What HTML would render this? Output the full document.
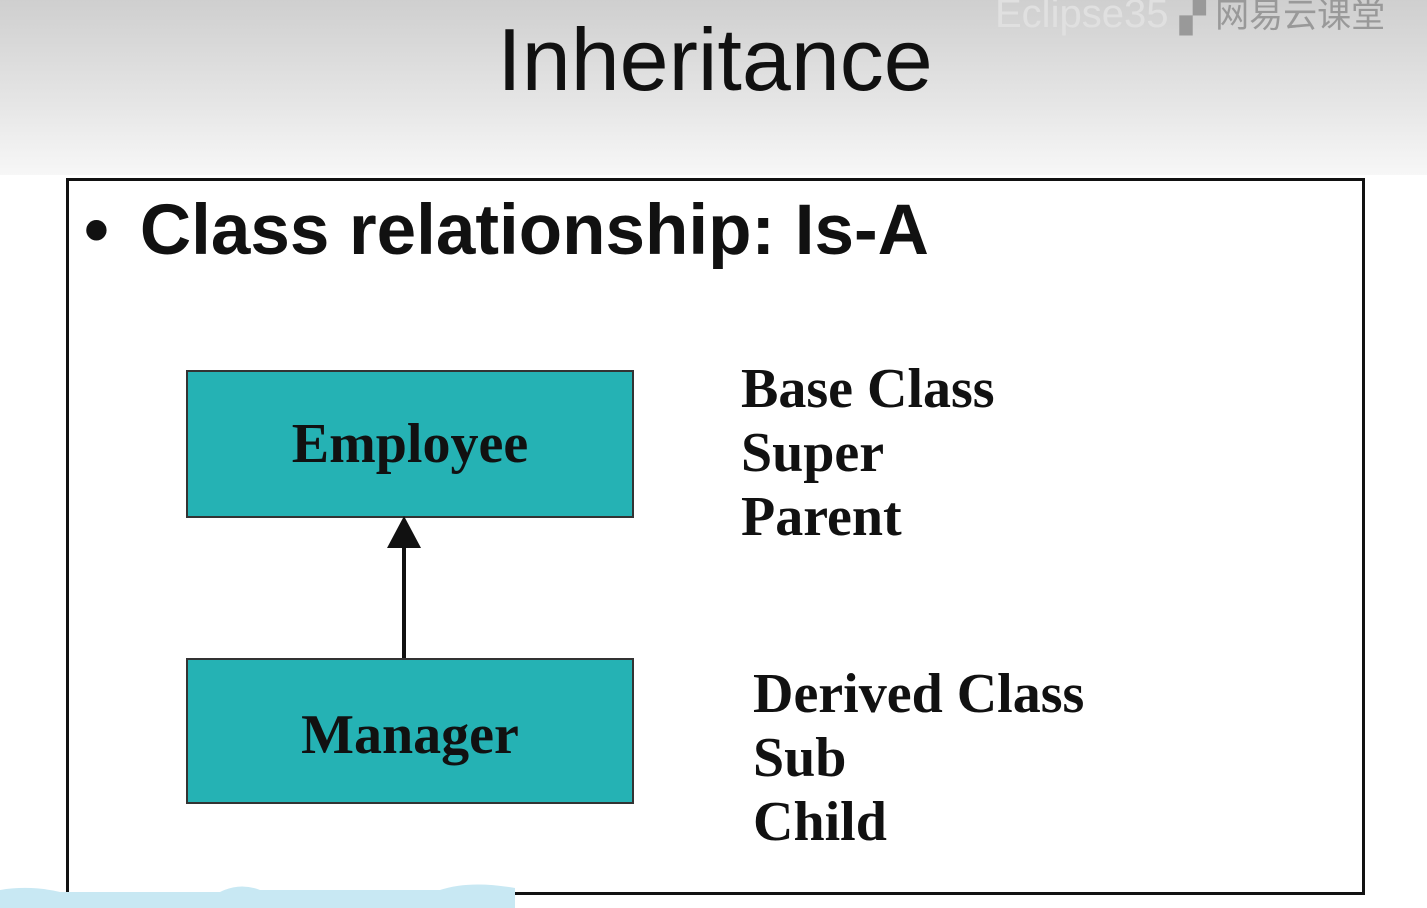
<!DOCTYPE html>
<html><head><style>
html,body{margin:0;padding:0}
body{width:1427px;height:908px;position:relative;overflow:hidden;background:#fff;font-family:"Liberation Sans",sans-serif}
.top{position:absolute;left:0;top:0;width:1427px;height:175px;background:linear-gradient(#cfcfcf,#e6e6e6 60%,#f7f7f7)}
.title{position:absolute;left:0;width:1430px;top:9px;text-align:center;font-size:88px;color:#111}
.frame{position:absolute;left:66px;top:178px;width:1293px;height:711px;border:3px solid #111;background:#fff}
.bullet{position:absolute;left:84px;top:190px;font-size:71px;font-weight:bold;color:#111}
.box{position:absolute;left:186px;width:444px;background:#25b2b4;border:2px solid #333;font-family:"Liberation Serif",serif;font-weight:bold;font-size:56px;color:#111;text-align:center}
.lbl{position:absolute;font-family:"Liberation Serif",serif;font-weight:bold;font-size:56px;line-height:64px;color:#111}
.wm{position:absolute;left:995px;top:-12px;font-size:40px;color:#e0e0e0}
</style></head><body>
<div class="top"></div>
<div class="wm">Eclipse35 <span style="color:#999;font-size:34px">▞ 网易云课堂</span></div>
<div class="title">Inheritance</div>
<div class="frame"></div>
<div class="bullet">•<span style="margin-left:31px">Class relationship: Is-A</span></div>
<div class="box" style="top:370px;height:144px;line-height:144px">Employee</div>
<div class="box" style="top:658px;height:142px;line-height:150px">Manager</div>
<svg style="position:absolute;left:0;top:0" width="1427" height="908">
<line x1="404" y1="658" x2="404" y2="545" stroke="#111" stroke-width="4"/>
<polygon points="404,516 387,548 421,548" fill="#111"/>
<path d="M0,890 Q30,885 60,892 L220,892 Q240,882 260,890 L440,890 Q470,880 515,888 L515,908 L0,908Z" fill="#c8e8f3"/>
</svg>
<div class="lbl" style="left:741px;top:357px">Base Class<br>Super<br>Parent</div>
<div class="lbl" style="left:753px;top:662px">Derived Class<br>Sub<br>Child</div>
</body></html>
